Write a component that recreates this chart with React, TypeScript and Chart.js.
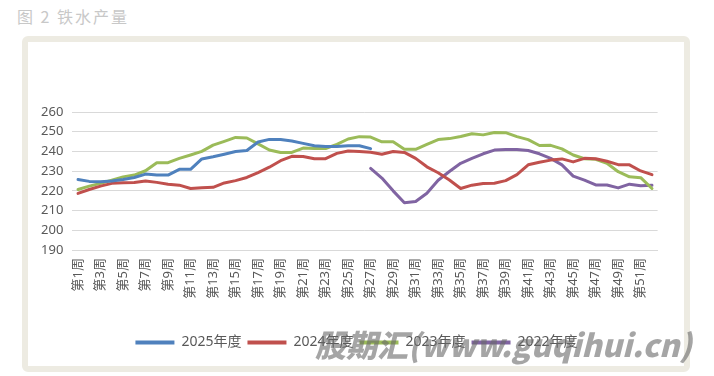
import React, { useEffect, useRef } from "react";
import { Chart, registerables } from "chart.js";

Chart.register(...registerables);

const weekLabels: string[] = Array.from({ length: 52 }, (_, i) => `第${i + 1}周`);

const yTicks = [190, 200, 210, 220, 230, 240, 250, 260];

const s2025: (number | null)[] = [
  225.8, 224.8, 224.6, 225.0, 225.8, 226.8, 228.5, 228.0, 228.0, 230.9,
  230.9, 236.2, 237.3, 238.6, 240.0, 240.5, 244.8, 246.1, 246.1, 245.3,
  244.1, 242.9, 242.5, 242.5, 242.9, 242.9, 241.4,
  null, null, null, null, null, null, null, null, null, null, null, null, null,
  null, null, null, null, null, null, null, null, null, null, null, null,
];

const s2024: (number | null)[] = [
  218.7, 220.7, 222.4, 223.8, 224.1, 224.2, 225.0, 224.3, 223.4, 222.9,
  221.2, 221.6, 221.8, 224.0, 225.2, 226.8, 229.3, 232.0, 235.3, 237.5,
  237.4, 236.3, 236.3, 239.0, 240.2, 240.0, 239.6, 238.6, 240.0, 239.5,
  236.5, 232.2, 229.2, 225.5, 221.2, 222.9, 223.7, 223.9, 225.2, 228.2,
  233.2, 234.5, 235.6, 236.2, 234.7, 236.5, 236.3, 235.0, 233.3, 233.2,
  230.1, 228.2,
];

const s2023: (number | null)[] = [
  220.7, 222.4, 223.8, 225.4, 227.1, 228.0, 230.2, 234.3, 234.3, 236.5,
  238.2, 240.0, 243.2, 245.1, 247.1, 246.8, 243.8, 240.7, 239.5, 239.5,
  241.7, 241.5, 241.5, 243.6, 246.3, 247.5, 247.3, 244.9, 244.9, 241.1,
  241.1, 243.6, 246.0, 246.5, 247.6, 249.0, 248.4, 249.6, 249.5, 247.5,
  246.0, 243.0, 243.1, 241.3, 238.2, 236.3, 236.0, 234.0, 229.7, 227.1,
  226.7, 221.2,
];

const s2022: (number | null)[] = [
  null, null, null, null, null, null, null, null, null, null,
  null, null, null, null, null, null, null, null, null, null,
  null, null, null, null, null, null,
  231.4, 226.5, 220.0, 214.0, 214.6, 218.8, 225.4, 229.8, 234.0, 236.5,
  238.8, 240.7, 241.0, 241.0, 240.5, 238.8, 236.5, 233.2, 227.5, 225.4,
  223.0, 223.0, 221.5, 223.4, 222.6, 222.8,
];

const seriesNames = ["2025年度", "2024年度", "2023年度", "2022年度"];
const seriesColors = ["#4F81BD", "#C0504D", "#9BBB59", "#8064A2"];

const FONT = '"Noto Sans", "Noto Sans CJK SC", sans-serif';
const TEXT = "#595959";

const legendShift = {
  id: "legendShift",
  afterLayout(chart: any) {
    const lg = chart.legend;
    if (lg) {
      lg.left += 13.7;
      lg.right += 13.7;
    }
  },
};

export default function App() {
  const ref = useRef<HTMLCanvasElement | null>(null);

  useEffect(() => {
    if (!ref.current) return;
    const data = [s2025, s2024, s2023, s2022];
    const chart = new Chart(ref.current, {
      type: "line",
      data: {
        labels: weekLabels,
        datasets: data.map((d, i) => ({
          label: seriesNames[i],
          data: d,
          borderColor: seriesColors[i],
          backgroundColor: seriesColors[i],
          borderWidth: 3,
          pointRadius: 0,
          tension: 0,
          spanGaps: false,
          borderCapStyle: "round" as const,
          borderJoinStyle: "round" as const,
        })),
      },
      plugins: [legendShift],
      options: {
        responsive: false,
        animation: false,
        devicePixelRatio: 1,
        layout: { padding: { top: 70, left: 0, right: 26.4, bottom: 6.5 } },
        scales: {
          x: {
            offset: true,
            grid: { display: false, drawTicks: false },
            border: { display: true, color: "#D9D9D9", width: 1 },
            ticks: {
              autoSkip: false,
              maxRotation: 90,
              minRotation: 90,
              padding: 8,
              color: TEXT,
              font: { family: FONT, size: 13 },
              callback: (_v: any, i: number) => (i % 2 === 0 ? weekLabels[i] : ""),
            },
            afterFit: (s: any) => {
              s.height = 79.5;
            },
          },
          y: {
            min: 190,
            max: 260,
            afterBuildTicks: (s: any) => {
              s.ticks = yTicks.map((v) => ({ value: v }));
            },
            grid: { color: "#D9D9D9", lineWidth: 1, drawTicks: false },
            border: { display: false },
            ticks: {
              padding: 9,
              color: TEXT,
              font: { family: FONT, size: 13 },
            },
            afterFit: (s: any) => {
              s.width = 44.4;
            },
          },
        },
        plugins: {
          legend: {
            position: "bottom",
            labels: {
              boxWidth: 39,
              boxHeight: 4,
              padding: 6,
              color: TEXT,
              font: { family: FONT, size: 14 },
              generateLabels: (c: any) => {
                const items = Chart.defaults.plugins.legend.labels.generateLabels(c);
                return items.map((it: any, i: number) => ({
                  ...it,
                  fillStyle: seriesColors[i],
                  strokeStyle: seriesColors[i],
                  lineWidth: 0,
                }));
              },
            },
          },
          tooltip: { enabled: false },
          title: { display: false },
        },
      },
    });
    return () => chart.destroy();
  }, []);

  return (
    <div style={{ position: "absolute", left: 0, top: 0, width: 714, height: 376, background: "#fff", overflow: "hidden" }}>
      <div
        style={{
          position: "absolute",
          left: 17,
          top: 5,
          fontFamily: '"Noto Sans CJK SC", sans-serif',
          fontSize: 16,
          letterSpacing: 2,
          color: "#C8C8C8",
          whiteSpace: "pre",
          lineHeight: "22px",
        }}
      >
        {"图 2 铁水产量"}
      </div>
      <div
        style={{
          position: "absolute",
          left: 22,
          top: 36,
          width: 668,
          height: 336,
          boxSizing: "border-box",
          border: "6px solid #EDEBE2",
          borderRadius: 6,
          background: "#fff",
        }}
      />
      <canvas
        ref={ref}
        width={656}
        height={324}
        style={{ position: "absolute", left: 28, top: 42, width: 656, height: 324 }}
      />
      <div
        style={{
          position: "absolute",
          left: 315,
          top: 322,
          fontFamily: '"Noto Sans CJK SC", "DejaVu Sans", sans-serif',
          fontWeight: 900,
          fontStyle: "italic",
          fontSize: 31,
          color: "rgba(105,105,105,0.6)",
          whiteSpace: "pre",
          lineHeight: "44px",
          pointerEvents: "none",
        }}
      >
        股期汇(www.guqihui.cn)
      </div>
    </div>
  );
}
